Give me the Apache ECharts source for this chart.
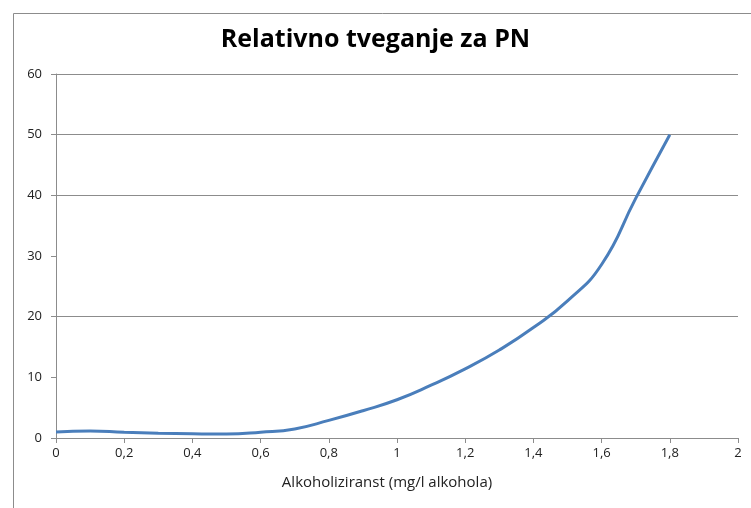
<!DOCTYPE html>
<html>
<head>
<meta charset="utf-8">
<script src="https://cdn.jsdelivr.net/npm/echarts@6/dist/echarts.min.js"></script>
<style>html,body{margin:0;padding:0;background:#fff}#c{width:751px;height:508px}</style>
</head>
<body>
<div id="c"></div>
<script>
const titleText = 'Relativno tveganje za PN';
const xAxisName = 'Alkoholiziranst (mg/l alkohola)';
const xValues = [0, 0.1, 0.2, 0.3, 0.4, 0.5, 0.6, 0.7, 0.8, 0.9, 1.0, 1.1, 1.2, 1.3, 1.4, 1.5, 1.6, 1.7, 1.8];
const yValues = [1.0, 1.15, 0.95, 0.8, 0.7, 0.65, 0.95, 1.5, 2.9, 4.5, 6.3, 8.7, 11.4, 14.5, 18.2, 22.6, 28.6, 39.5, 50];
const seriesData = xValues.map((x, i) => [x, yValues[i]]);

const chart = echarts.init(document.getElementById('c'), null, {renderer: 'canvas'});
const gray = '#8c8c8c';
chart.setOption({
  animation: false,
  backgroundColor: '#fff',
  graphic: [{
    type: 'rect', left: 11, top: 11, silent: true,
    shape: {width: 800, height: 560},
    style: {fill: 'none', stroke: gray, lineWidth: 1}
  }],
  title: {
    text: titleText, left: 'center', top: 22,
    textStyle: {fontFamily: 'Open Sans', fontWeight: 'bold', fontSize: 25, color: '#000'}
  },
  grid: {left: 56, right: 13, top: 74, bottom: 70},
  xAxis: {
    type: 'value', min: 0, max: 2, interval: 0.2,
    name: xAxisName, nameLocation: 'middle', nameGap: 37,
    nameTextStyle: {fontFamily: 'Open Sans', fontSize: 15, color: '#222', padding: [0, 20, 0, 0]},
    axisLine: {show: true, lineStyle: {color: gray}},
    axisTick: {show: true, length: 5, lineStyle: {color: gray}},
    axisLabel: {fontFamily: 'Open Sans', fontSize: 13, color: '#222', margin: 9,
      formatter: v => String(Math.round(v * 10) / 10).replace('.', ',')},
    splitLine: {show: false}
  },
  yAxis: {
    type: 'value', min: 0, max: 60, interval: 10,
    axisLine: {show: true, lineStyle: {color: gray}},
    axisTick: {show: true, length: 5, lineStyle: {color: gray}},
    axisLabel: {fontFamily: 'Open Sans', fontSize: 13, color: '#222', margin: 14},
    splitLine: {show: true, lineStyle: {color: [gray, 'rgba(0,0,0,0)', gray, 'rgba(0,0,0,0)', gray, gray, gray], width: 1}}
  },
  series: [{
    type: 'line', data: seriesData, smooth: 0.5, showSymbol: false,
    lineStyle: {color: '#4a7ebb', width: 3}
  }]
});
</script>
</body>
</html>
